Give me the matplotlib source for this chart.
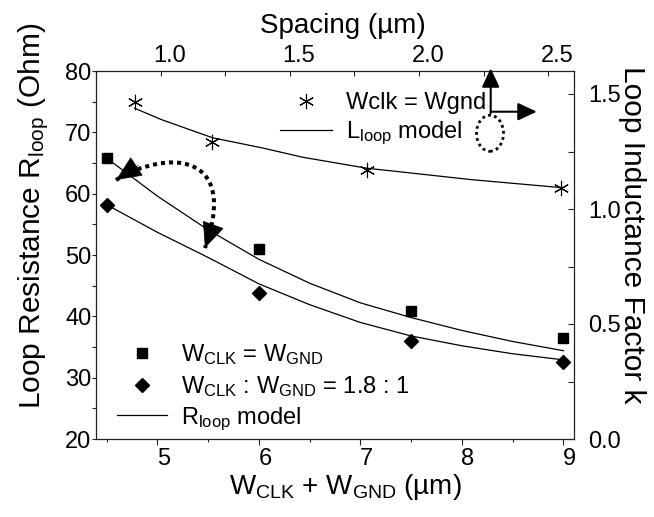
import matplotlib
matplotlib.use('Agg')
import matplotlib.pyplot as plt
from matplotlib.ticker import MultipleLocator, FormatStrFormatter
from matplotlib.patches import FancyArrowPatch, Ellipse
from matplotlib.path import Path
from matplotlib.lines import Line2D
from matplotlib.transforms import ScaledTranslation

plt.rcParams['font.family'] = ['Liberation Sans', 'DejaVu Sans']
plt.rcParams['mathtext.fontset'] = 'custom'
plt.rcParams['mathtext.rm'] = 'Liberation Sans'
plt.rcParams['mathtext.it'] = 'Liberation Sans:italic'
plt.rcParams['mathtext.bf'] = 'Liberation Sans:bold'

# ---------------- data ----------------
width_sum = [4.5, 6.0, 7.5, 9.0]            # W_CLK + W_GND (um)
r_equal = [65.8, 51.0, 40.9, 36.5]          # W_CLK = W_GND
r_ratio = [58.2, 43.8, 36.0, 32.6]          # W_CLK : W_GND = 1.8 : 1

model_x = [4.5, 5.0, 5.5, 6.0, 6.5, 7.0, 7.5, 8.0, 8.5, 9.0]
r_model_equal = [65.8, 59.6, 54.1, 49.3, 45.4, 42.2, 39.8, 37.7, 35.9, 34.4]
r_model_ratio = [58.2, 53.7, 49.6, 45.3, 41.9, 39.0, 36.8, 35.2, 33.9, 32.9]

spacing = [0.90, 1.20, 1.80, 2.55]          # Spacing (um)
l_factor = [1.467, 1.293, 1.170, 1.093]     # Wclk = Wgnd
l_model_s = [0.90, 1.0, 1.1, 1.2, 1.4, 1.55, 1.8, 1.9, 2.2, 2.55]
l_model = [1.438, 1.39, 1.35, 1.31, 1.264, 1.225, 1.177, 1.165, 1.128, 1.093]

bottom_ticks = [5, 6, 7, 8, 9]
left_ticks = [20, 30, 40, 50, 60, 70, 80]
top_ticks = [1.0, 1.5, 2.0, 2.5]
right_ticks = [0.0, 0.5, 1.0, 1.5]

# ---------------- figure ----------------
fig = plt.figure(figsize=(6.54, 5.17), dpi=100)
L, B, W, H = 96/654, 78/517, 478/654, 368/517
ax = fig.add_axes([L, B, W, H])
ax2 = fig.add_axes([L, B, W, H], frameon=False)

for s in ax.spines.values():
    s.set_linewidth(0.9)
    s.set_color('#222222')

ax.set_xlim(4.395, 9.105)
ax.set_ylim(20, 80)
ax.set_xticks(bottom_ticks)
ax.xaxis.set_minor_locator(MultipleLocator(0.5))
ax.set_yticks(left_ticks)
ax.yaxis.set_minor_locator(MultipleLocator(5))
ax.tick_params(axis='x', which='both', direction='out', bottom=True, top=False,
               labelsize=17, pad=2.5, width=0.8, color='#222222')
ax.tick_params(axis='x', which='major', length=4.3)
ax.tick_params(axis='x', which='minor', length=2.2)
ax.tick_params(axis='y', which='both', direction='out', left=True, right=False,
               labelsize=17, pad=0.3, width=0.8, length=3.1, color='#222222')

ax2.set_xlim(0.75, 2.6)
ax2.set_ylim(0, 1.6)
ax2.xaxis.tick_top()
ax2.yaxis.tick_right()
ax2.xaxis.set_label_position('top')
ax2.yaxis.set_label_position('right')
ax2.set_xticks(top_ticks)
ax2.xaxis.set_minor_locator(MultipleLocator(0.25))
ax2.set_yticks(right_ticks)
ax2.yaxis.set_minor_locator(MultipleLocator(0.25))
ax2.xaxis.set_major_formatter(FormatStrFormatter('%.1f'))
ax2.yaxis.set_major_formatter(FormatStrFormatter('%.1f'))
ax2.tick_params(axis='x', which='both', direction='in', top=True, bottom=False,
                labelsize=17, pad=3, length=3.6, width=0.8, color='#222222')
ax2.tick_params(axis='y', which='both', direction='in', right=True, left=False,
                labelsize=17, pad=10, length=4.3, width=0.8, color='#222222')

# ---------------- data marks ----------------
ax.plot(model_x, r_model_equal, color='black', lw=0.9, zorder=2)
ax.plot(model_x, r_model_ratio, color='black', lw=0.9, zorder=2)
sq, = ax.plot(width_sum, r_equal, ls='none', marker='s', ms=7.9, color='black', zorder=3)
di, = ax.plot(width_sum, r_ratio, ls='none', marker='D', ms=7.6, color='black', zorder=3)
rl = Line2D([], [], color='black', lw=0.9)

ax2.plot(l_model_s, l_model, color='black', lw=0.9, zorder=2)
ast, = ax2.plot(spacing, l_factor, ls='none', marker=(6, 2, 0), ms=11,
                mew=0.8, color='black', zorder=3)
ll = Line2D([], [], color='black', lw=0.9)

# ---------------- labels ----------------
ax.set_xlabel(r'W$_{\mathregular{CLK}}$ + W$_{\mathregular{GND}}$ (µm)', fontsize=20, va='center')
ax.xaxis.set_label_coords(0.521, -0.13)
ax.set_ylabel(r'Loop Resistance R$_{\mathregular{loop}}$ (Ohm)', fontsize=21.5, va='center')
ax.yaxis.set_label_coords(-0.13, 0.605)
ax2.set_xlabel('Spacing (µm)', fontsize=20, va='center')
ax2.xaxis.set_label_coords(0.516, 1.122)
ax2.set_ylabel('Loop Inductance Factor k', fontsize=21.5, rotation=270, va='center')
ax2.yaxis.set_label_coords(1.122, 0.555)

# ---------------- legends ----------------
leg1 = ax.legend([sq, di, rl],
                 [r'W$_{\mathregular{CLK}}$ = W$_{\mathregular{GND}}$',
                  r'W$_{\mathregular{CLK}}$ : W$_{\mathregular{GND}}$ = 1.8 : 1',
                  r'R$_{\mathregular{loop}}$ model'],
                 loc='upper left', bbox_to_anchor=(0.044, 0.262), bbox_transform=ax.transAxes,
                 frameon=False, fontsize=17, borderpad=0, borderaxespad=0,
                 handlelength=2.1, handletextpad=0.6, labelspacing=0.27)
leg2 = ax2.legend([ast, ll],
                  ['Wclk = Wgnd', r'L$_{\mathregular{loop}}$ model'],
                  loc='upper left', bbox_to_anchor=(0.385, 0.943), bbox_transform=ax2.transAxes,
                  frameon=False, fontsize=17, borderpad=0, borderaxespad=0,
                  handlelength=2.2, handletextpad=0.6, labelspacing=0.25)

# ---------------- annotations ----------------
# dotted curved double arrow
verts = [(0.0418, 0.7038), (0.1444, 0.7853), (0.3013, 0.7853), (0.2280, 0.5190)]
codes = [Path.MOVETO, Path.CURVE4, Path.CURVE4, Path.CURVE4]
arc = FancyArrowPatch(path=Path(verts, codes), transform=ax.transAxes, arrowstyle='-',
                      lw=2.9, linestyle=(0, (1, 1)), color='black', capstyle='butt', zorder=5)
ax.add_patch(arc)
for tail, tip in [((0.0883, 0.7435), (0.0418, 0.7038)), ((0.2462, 0.5856), (0.2280, 0.5190))]:
    ax.add_patch(FancyArrowPatch(tail, tip, transform=ax.transAxes,
                                 arrowstyle='-|>,head_length=17,head_width=7.5',
                                 lw=0.5, color='black', shrinkA=0, shrinkB=0, zorder=6))

# coordinate icon
up = FancyArrowPatch((0.8257, 0.885), (0.8257, 1.0073), transform=ax.transAxes,
                     arrowstyle='-|>,head_length=11.5,head_width=5.4', lw=1.5,
                     color='black', shrinkA=0, shrinkB=0, clip_on=False, zorder=6)
right = FancyArrowPatch((0.8257, 0.8894), (0.9220, 0.8894), transform=ax.transAxes,
                        arrowstyle='-|>,head_length=11.5,head_width=5.4', lw=1.5,
                        color='black', shrinkA=0, shrinkB=0, clip_on=False, zorder=6)
ax.add_patch(up)
ax.add_patch(right)
ell = Ellipse((0.8243, 0.8307), 0.0565, 0.0978, transform=ax.transAxes, fill=False,
              lw=2.0, linestyle=(0, (1, 1.2)), edgecolor='black', zorder=6)
ax.add_patch(ell)

# small offsets of tick labels as in the original export
for t in ax.xaxis.get_major_ticks():
    t.label1.set_transform(t.label1.get_transform() + ScaledTranslation(0.06, 0, fig.dpi_scale_trans))
for t in ax2.xaxis.get_major_ticks():
    t.label2.set_transform(t.label2.get_transform() + ScaledTranslation(0.09, 0, fig.dpi_scale_trans))

fig.savefig('out.png', dpi=100, facecolor='white')
